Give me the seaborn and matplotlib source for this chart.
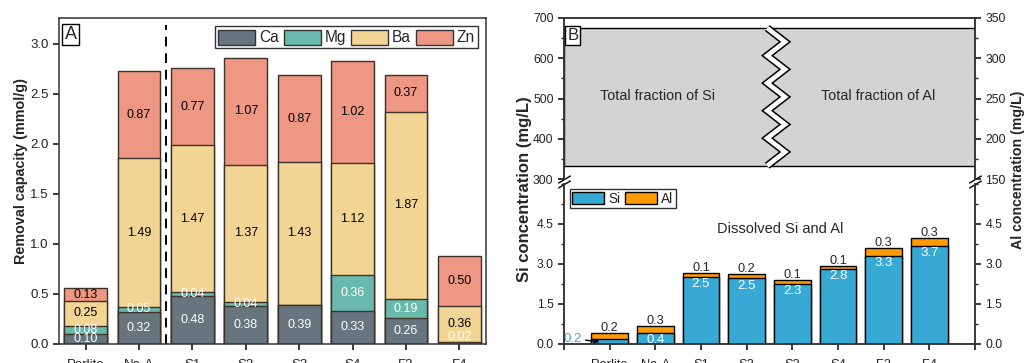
import numpy as np
import matplotlib.pyplot as plt
import seaborn as sns
from matplotlib.patches import Patch
from matplotlib.ticker import MultipleLocator

# ---------------- data ----------------
samples = ["Perlite", "Na-A", "S1", "S2", "S3", "S4", "F2", "F4"]

# panel A: removal capacity (mmol/g)
ca = [0.10, 0.32, 0.48, 0.38, 0.39, 0.33, 0.26, 0.00]
mg = [0.08, 0.05, 0.04, 0.04, 0.00, 0.36, 0.19, 0.02]
ba = [0.25, 1.49, 1.47, 1.37, 1.43, 1.12, 1.87, 0.36]
zn = [0.13, 0.87, 0.77, 1.07, 0.87, 1.02, 0.37, 0.50]

# panel B: dissolved Si and Al (mg/L)
si = [0.19, 0.41, 2.51, 2.46, 2.26, 2.81, 3.30, 3.68]
al = [0.22, 0.27, 0.14, 0.16, 0.13, 0.12, 0.30, 0.30]

# total fraction band (Si axis, mg/L)
total_low = 333
total_high = 675

# ---------------- style ----------------
sns.set_theme(style="ticks", rc={"axes.linewidth": 1.1, "xtick.major.size": 4,
                                 "ytick.major.size": 4, "ytick.minor.size": 2.5,
                                 "axes.edgecolor": "#333333"})
plt.rcParams["font.family"] = ["Liberation Sans", "DejaVu Sans"]

W, H = 1024, 363
fig = plt.figure(figsize=(W / 100, H / 100), dpi=100)

# ============ Panel A ============
axA = fig.add_axes([59 / W, 19 / H, 427 / W, 326 / H])
layers = [("Ca", ca, "#67767e", "white"),
          ("Mg", mg, "#69b9ad", "white"),
          ("Ba", ba, "#f2d594", "black"),
          ("Zn", zn, "#ee9884", "black")]
cum = np.cumsum([l[1] for l in layers], axis=0)

for i in range(len(layers) - 1, -1, -1):
    sns.barplot(x=samples, y=cum[i], color=layers[i][2], saturation=1, width=0.8,
                edgecolor="#3d3128", linewidth=1, errorbar=None, ax=axA)

for i, (name, vals, col, tcol) in enumerate(layers):
    for j, v in enumerate(vals):
        if v <= 0:
            continue
        bottom = cum[i][j] - v
        y = bottom + v / 2 if v >= 0.03 else bottom + 0.07
        axA.text(j, y, f"{v:.2f}", ha="center", va="center", color=tcol, fontsize=9)

axA.axvline(1.5, ymax=0.98, color="black", lw=1.4, ls=(0, (5, 3.5)))
axA.set_xlim(-0.5, 7.5)
axA.set_ylim(0, 3.26)
axA.set_yticks(np.arange(0, 3.01, 0.5))
axA.set_yticklabels([f"{t:.1f}" for t in np.arange(0, 3.01, 0.5)])
axA.tick_params(labelsize=9.5, colors="#222222")
axA.tick_params(axis="x", pad=7)
axA.set_xlabel("")
axA.set_ylabel("")
fig.text(21 / W, (H - 171) / H, "Removal capacity (mmol/g)", rotation=90, ha="center",
         va="center", fontsize=10.4, fontweight="bold")
axA.text(0.013, 0.975, "A", transform=axA.transAxes, fontsize=13, va="top", ha="left",
         bbox=dict(boxstyle="square,pad=0.12", fc="white", ec="black", lw=1))
handles = [Patch(facecolor=l[2], edgecolor="#333333", label=l[0]) for l in layers]
legA = axA.legend(handles=handles, loc="upper right", bbox_to_anchor=(0.982, 0.974),
                  ncol=4, fontsize=11.2, frameon=True, fancybox=False, edgecolor="black",
                  handlelength=2.4, handleheight=1.1, columnspacing=0.3,
                  handletextpad=0.25, borderpad=0.2, borderaxespad=0)
legA.get_frame().set_linewidth(1)

# ============ Panel B ============
axU = fig.add_axes([564 / W, (H - 179) / H, 411 / W, 161 / H])
axL = fig.add_axes([564 / W, 19 / H, 411 / W, 160 / H])

# upper: total fractions
axU.bar(3.5, total_high - total_low, bottom=total_low, width=9, color="#d3d3d3",
        edgecolor="black", linewidth=1)
zx = np.array([3.45, 3.84] * 6)[:11]
zy = np.linspace(total_high, total_low, 11)
axU.plot(zx, zy, color="black", lw=5.5, solid_capstyle="butt", solid_joinstyle="miter")
axU.plot(zx, zy, color="white", lw=3.3, solid_capstyle="butt", solid_joinstyle="miter")
axU.text(1.05, 505, "Total fraction of Si", ha="center", va="center", fontsize=10.4)
axU.text(5.88, 505, "Total fraction of Al", ha="center", va="center", fontsize=10.4)
axU.text(0.008, 0.94, "B", transform=axU.transAxes, fontsize=12, va="top", ha="left",
         bbox=dict(boxstyle="square,pad=0.12", fc="white", ec="black", lw=1))
axU.set_xlim(-1, 8)
axU.set_ylim(300, 700)
axU.yaxis.set_major_locator(MultipleLocator(100))
axU.yaxis.set_minor_locator(MultipleLocator(50))
axU.set_xticks([])
axU.spines["bottom"].set_visible(False)

# lower: dissolved Si and Al
tot = np.array(si) + np.array(al)
sns.barplot(x=samples, y=tot, color="#ff9b00", saturation=1, width=0.8,
            edgecolor="black", linewidth=1, errorbar=None, ax=axL)
sns.barplot(x=samples, y=si, color="#36a9d4", saturation=1, width=0.8,
            edgecolor="black", linewidth=1, errorbar=None, ax=axL)
for j in range(len(samples)):
    axL.text(j, tot[j] + 0.19, f"{al[j]:.1f}", ha="center", va="center", fontsize=9.2)
    if j == 0:
        axL.annotate(f"{si[j]:.1f}", xy=(-0.22, 0.09), xytext=(-0.8, 0.19),
                     color="#36a9d4", fontsize=9.5, ha="center", va="center",
                     arrowprops=dict(arrowstyle="-|>", color="black", lw=1,
                                     mutation_scale=7, shrinkA=0, shrinkB=0))
    else:
        axL.text(j, si[j] - 0.27, f"{si[j]:.1f}", ha="center", va="center",
                 color="white", fontsize=9.5)
axL.text(3.73, 4.31, "Dissolved Si and Al", ha="center", va="center", fontsize=10.5)
axL.set_xlim(-1, 8)
axL.set_ylim(0, 6.0)
axL.set_xticks(range(-1, 9))
axL.set_xticklabels([""] + samples + [""])
axL.set_yticks([0, 1.5, 3.0, 4.5])
axL.set_yticklabels(["0.0", "1.5", "3.0", "4.5"])
axL.yaxis.set_minor_locator(MultipleLocator(0.75))
axL.spines["top"].set_visible(False)
axL.set_xlabel("")
axL.set_ylabel("")
legB = axL.legend(handles=[Patch(facecolor="#36a9d4", edgecolor="black", label="Si"),
                           Patch(facecolor="#ff9b00", edgecolor="black", label="Al")],
                  loc="upper left", bbox_to_anchor=(0.014, 0.97), ncol=2, fontsize=9.8,
                  frameon=True, fancybox=False, edgecolor="black", handlelength=2.3,
                  handleheight=1.0, columnspacing=0.35, handletextpad=0.35,
                  borderpad=0.2, borderaxespad=0)
legB.get_frame().set_linewidth(1)

# right (Al) axes
axUR = axU.twinx()
axUR.set_ylim(150, 350)
axUR.yaxis.set_major_locator(MultipleLocator(50))
axUR.yaxis.set_minor_locator(MultipleLocator(25))
axUR.spines["bottom"].set_visible(False)
axLR = axL.twinx()
axLR.set_ylim(0, 6.0)
axLR.set_yticks([0, 1.5, 3.0, 4.5])
axLR.set_yticklabels(["0.0", "1.5", "3.0", "4.5"])
axLR.yaxis.set_minor_locator(MultipleLocator(0.75))
axLR.spines["top"].set_visible(False)

for ax in (axU, axL, axUR, axLR):
    ax.tick_params(labelsize=8.8, colors="#222222")
    ax.tick_params(which="minor", length=2.5)
axL.tick_params(axis="x", labelsize=9.3, pad=7)

# break marks
kw = dict(marker=[(-1, -0.6), (1, 0.6)], markersize=9, linestyle="none",
          color="black", mec="black", mew=1, clip_on=False)
axU.plot([0, 1], [0, 0], transform=axU.transAxes, **kw)
axL.plot([0, 1], [1, 1], transform=axL.transAxes, **kw)

fig.text(524 / W, (H - 189) / H, "Si concentration (mg/L)", rotation=90, ha="center",
         va="center", fontsize=12, fontweight="bold")
fig.text(1018 / W, (H - 170) / H, "Al concentration (mg/L)", rotation=90, ha="center",
         va="center", fontsize=10.2, fontweight="bold")

fig.savefig("out.png", dpi=100)
